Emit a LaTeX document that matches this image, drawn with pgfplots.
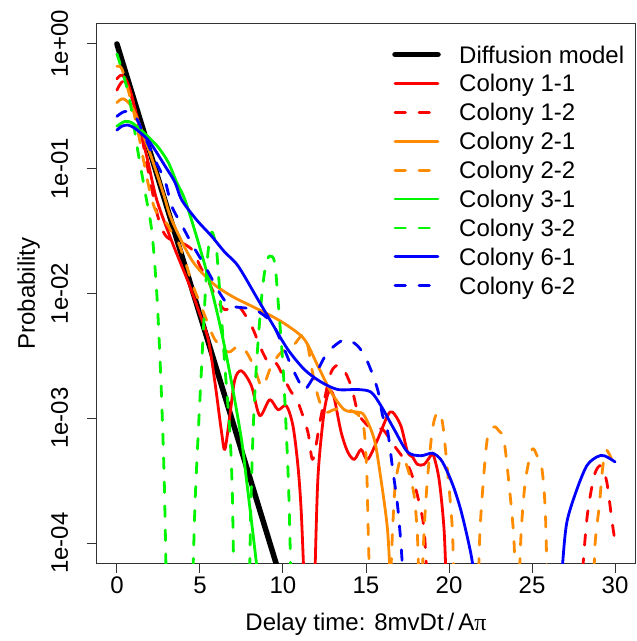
\documentclass[border=0pt]{standalone}
\usepackage{fontspec}
\setmainfont{Liberation Sans}
\newfontfamily\greekfont{Liberation Serif}
\usepackage{pgfplots}
\pgfplotsset{compat=1.18}

\definecolor{cred}{RGB}{255,0,0}
\definecolor{corange}{RGB}{255,140,0}
\definecolor{cgreen}{RGB}{0,245,0}
\definecolor{cblue}{RGB}{0,0,255}

\pgfplotsset{
  dens/.style={line width=2.8bp, line cap=round, line join=round, smooth, tension=0.5},
}
\tikzset{dashd/.style={dash pattern=on 10.5bp off 13.5bp}}

\begin{document}
\begin{tikzpicture}[font=\fontsize{24bp}{28.8bp}\selectfont]
\useasboundingbox (-97bp,-78bp) rectangle (540bp,563bp);
\begin{axis}[
  at={(0,0)}, anchor=south west, scale only axis,
  width=538bp, height=539bp,
  xmin=-1.2, xmax=31.2,
  ymode=log, ymin=6.918e-5, ymax=1.4454,
  axis line style={line width=1bp, black!80},
  tick style={line width=1bp, black!80},
  tick align=outside, major tick length=10bp,
  xtick pos=bottom, ytick pos=left,
  xtick={0,5,10,15,20,25,30}, xticklabels={0,5,10,15,20,25,30},
  ytick={1e-4,1e-3,1e-2,1e-1,1},
  yticklabels={1e-04,1e-03,1e-02,1e-01,1e+00},
  yminorticks=false,
  xticklabel style={anchor=base, inner sep=0pt, yshift=-21bp},
  yticklabel style={rotate=90, anchor=base, inner sep=0pt, yshift=19bp},
  every axis x label/.style={at={(axis description cs:0.5,0)}, anchor=base, yshift=-67bp},
  every axis y label/.style={at={(axis description cs:0,0.5)}, rotate=90, anchor=base, yshift=62bp},
  xlabel={Delay time: 8mvDt\,/\,A{\greekfont π}},
  ylabel={Probability},
  unbounded coords=jump,
]

% diffusion model
\addplot[black, line width=5.5bp, line cap=round] coordinates {(0,1) (10,4.54e-5)};

% Colony 1-1
\addplot[dens, cred] coordinates {
(0,0.525) (0.3,0.562) (0.7,0.468) (1.2,0.263) (1.85,0.117) (2.4,0.0562) (3.3,0.0263)
(4.3,0.0123) (4.9,7.41e-3) (5.5,4.27e-3) (5.9,1.95e-3) (6.3,7.76e-4) (6.5,5.62e-4)
(6.8,1.05e-3) (7.1,2.04e-3) (7.5,2.40e-3) (8.1,1.82e-3) (8.6,1.05e-3) (9.2,1.41e-3)
(9.7,1.17e-3) (10.2,1.26e-3) (10.6,8.71e-4) (10.9,4.17e-4) (11.1,1.78e-4)
(11.3,3.98e-5) (11.6,nan)
(11.9,3.98e-5) (12.1,3.24e-4) (12.45,1.05e-3) (12.75,1.62e-3) (13.05,1.51e-3) (13.5,7.76e-4)
(13.9,5.37e-4) (14.3,4.68e-4) (14.7,5.62e-4) (15.1,4.68e-4) (15.7,6.76e-4) (16.3,1.05e-3)
(16.6,1.12e-3) (17.1,8.71e-4) (17.5,5.37e-4) (17.8,4.90e-4) (18.1,4.27e-4) (18.5,4.27e-4)
(18.9,5.01e-4) (19.05,5.13e-4) (19.4,3.24e-4) (19.7,1.29e-4) (19.85,3.98e-5)
};

% Colony 1-2
\addplot[dens, dashd, cred] coordinates {
(0,0.427) (0.36,0.501) (0.8,0.417) (1.5,0.178) (2.0,0.0794) (2.5,0.0398) (2.9,0.0295)
(3.4,0.0263) (4.0,0.0251) (4.6,0.0219) (5.0,0.0166) (5.5,0.0126) (6.0,9.12e-3) (6.5,7.41e-3)
(7.3,7.94e-3) (8.1,5.50e-3) (8.7,3.55e-3) (9.2,2.69e-3) (9.6,2.75e-3) (10.1,2.04e-3)
(10.5,1.62e-3) (10.9,1.35e-3) (11.5,7.76e-4) (11.8,4.68e-4) (12.3,1.05e-3)
(12.9,2.34e-3) (13.5,2.63e-3) (14.1,1.82e-3) (14.5,1.12e-3)
(14.9,9.33e-4) (15.4,8.13e-4) (16.0,8.13e-4) (16.7,6.03e-4) (17.3,4.68e-4) (17.7,3.72e-4)
(18.1,2.40e-4) (18.5,1.29e-4) (18.7,3.98e-5) (20,nan)
(27.95,3.98e-5) (28.3,1.55e-4) (28.75,3.47e-4) (29.15,4.17e-4) (29.5,3.09e-4) (29.8,1.55e-4)
(30.0,1.02e-4)
};

% Colony 2-1
\addplot[dens, corange] coordinates {
(0,0.339) (0.4,0.363) (1.0,0.295) (2.0,0.132) (2.8,0.0631) (3.3,0.0389) (4.5,0.0186)
(5.7,0.0123) (6.9,9.55e-3) (8.1,7.94e-3) (9.3,6.61e-3) (10.3,5.50e-3) (11.3,4.27e-3)
(12.1,2.63e-3) (12.9,1.62e-3) (13.7,1.17e-3) (14.5,1.12e-3) (14.9,1.05e-3)
(15.5,6.76e-4) (15.9,3.24e-4) (16.3,1.26e-4) (16.5,3.98e-5)
};

% Colony 2-2
\addplot[dens, dashd, corange] coordinates {
(0,0.661) (0.3,0.631) (0.8,0.372) (1.25,0.204) (1.85,0.0794) (2.15,0.0537) (2.5,0.0417)
(3.0,0.0363) (3.3,0.0309) (3.7,0.0257) (4.2,0.0166) (4.5,0.0123) (5.3,6.61e-3)
(5.9,4.27e-3) (6.7,3.39e-3) (7.3,3.80e-3) (7.8,3.39e-3) (8.3,2.51e-3) (8.75,1.78e-3)
(9.3,2.63e-3) (9.9,3.39e-3) (10.6,3.80e-3) (11.2,4.68e-3) (11.5,3.80e-3) (11.7,2.63e-3)
(12.1,1.51e-3) (12.5,1.12e-3) (13.05,1.17e-3) (13.6,1.20e-3) (14.3,1.12e-3)
(14.7,1.0e-3) (14.9,7.76e-4) (15.05,3.55e-4) (15.15,1.0e-4) (15.25,3.98e-5) (15.8,nan)
(16.45,3.98e-5) (16.6,1.26e-4) (16.75,2.82e-4) (17.0,4.37e-4) (17.25,4.79e-4) (17.55,3.80e-4)
(17.9,2.40e-4) (18.1,1.12e-4) (18.2,3.98e-5) (18.27,nan)
(18.35,3.98e-5) (18.5,1.26e-4) (18.7,3.24e-4) (19.0,8.13e-4) (19.3,1.12e-3) (19.6,9.33e-4)
(19.9,3.89e-4) (20.2,1.29e-4) (20.3,3.98e-5) (21,nan)
(21.75,3.98e-5) (21.85,1.12e-4) (22.0,2.40e-4) (22.3,6.76e-4) (22.7,8.51e-4) (23.0,7.94e-4)
(23.3,6.76e-4) (23.6,3.09e-4) (23.9,1.12e-4) (24.0,3.98e-5) (24.1,nan)
(24.2,3.98e-5) (24.35,1.26e-4) (24.6,3.16e-4) (25.0,5.62e-4) (25.3,5.01e-4) (25.6,3.89e-4)
(25.8,1.78e-4) (25.92,3.98e-5) (27,nan)
(28.7,3.98e-5) (28.8,1.0e-4) (29.05,2.0e-4) (29.25,3.98e-4) (29.45,5.50e-4) (29.7,5.01e-4)
(30.0,3.89e-4)
};

% Colony 3-1
\addplot[dens, cgreen] coordinates {
(0,0.219) (0.5,0.240) (1.0,0.229) (1.85,0.182) (2.5,0.148) (3.1,0.112) (3.6,0.0776)
(4.1,0.0562) (4.9,0.0257) (5.7,0.0107) (6.3,4.90e-3) (6.9,1.95e-3) (7.5,6.76e-4)
(7.8,3.24e-4) (8.1,1.51e-4) (8.4,6.92e-5) (8.6,3.98e-5)
};

% Colony 3-2
\addplot[dens, dashd, cgreen] coordinates {
(0,0.832) (0.4,0.562) (0.8,0.339) (1.25,0.141) (1.7,0.0646) (2.1,0.0316) (2.4,0.01)
(2.65,2.0e-3) (2.85,3.16e-4) (2.98,3.98e-5) (3.5,nan)
(4.55,3.98e-5) (4.7,2.0e-4) (4.9,7.76e-4) (5.1,2.63e-3) (5.3,8.91e-3) (5.5,0.0224)
(5.7,0.0309) (5.85,0.0282) (6.0,0.0224) (6.2,0.01) (6.5,2.63e-3) (6.8,7.76e-4)
(6.95,2.51e-4) (7.05,3.98e-5) (7.5,nan)
(7.98,3.98e-5) (8.05,1.58e-4) (8.2,7.76e-4) (8.4,2.63e-3) (8.7,8.91e-3) (8.95,0.0166)
(9.2,0.02) (9.5,0.0178) (9.7,8.91e-3) (10.0,2.63e-3) (10.2,7.76e-4) (10.35,2.51e-4)
(10.5,3.98e-5)
};

% Colony 6-1
\addplot[dens, cblue] coordinates {
(0,0.204) (0.3,0.219) (0.65,0.224) (1.0,0.214) (1.4,0.195) (2.0,0.162) (2.9,0.105)
(3.5,0.0776) (3.9,0.0562) (4.8,0.0389) (5.7,0.0288) (6.5,0.0214) (7.3,0.0166) (8.5,8.91e-3)
(9.3,5.89e-3) (10.3,3.55e-3) (11.3,2.45e-3) (12.3,1.95e-3)
(13.3,1.70e-3) (14.5,1.70e-3) (15.3,1.62e-3) (15.9,1.26e-3)
(16.7,8.13e-4) (17.5,5.37e-4) (18.3,5.01e-4) (19.0,5.25e-4)
(19.5,4.68e-4) (19.9,3.72e-4) (20.3,2.75e-4) (20.7,1.86e-4) (21.1,1.12e-4) (21.4,7.08e-5)
(21.6,3.98e-5) (24,nan)
(26.75,3.98e-5) (26.85,7.08e-5) (27.1,1.48e-4) (27.7,2.69e-4) (28.3,4.17e-4) (28.9,4.90e-4)
(29.35,5.01e-4) (30.0,4.47e-4)
};

% Colony 6-2
\addplot[dens, dashd, cblue] coordinates {
(0,0.263) (0.5,0.288) (1.1,0.263) (1.7,0.178) (2.3,0.117) (2.9,0.0794) (3.3,0.0501)
(3.9,0.0355) (4.5,0.0251) (5.3,0.0166) (6.3,9.55e-3) (6.9,7.94e-3) (8.3,7.41e-3)
(9.3,5.89e-3) (9.9,4.07e-3) (10.5,2.63e-3) (11.1,1.82e-3) (11.35,1.70e-3) (12.1,2.45e-3)
(12.7,3.39e-3) (13.7,4.27e-3) (14.5,3.80e-3) (15.1,2.82e-3) (15.7,1.70e-3)
(16.0,1.05e-3) (16.3,7.94e-4) (16.6,3.98e-4) (16.9,2.0e-4) (17.1,1.0e-4) (17.3,3.98e-5)
};
\end{axis}

% legend, placed from the top left corner of the box
\begin{scope}[shift={(0,539bp)}]
\draw[black, line width=5.5bp, line cap=round] (298bp,-30.6bp) -- ++(43bp,0);
\draw[cred, line width=2.8bp, line cap=round] (298bp,-59.5bp) -- ++(43bp,0);
\draw[cred, line width=2.8bp, line cap=round, dashd] (298bp,-88.4bp) -- ++(43bp,0);
\draw[corange, line width=2.8bp, line cap=round] (298bp,-117.3bp) -- ++(43bp,0);
\draw[corange, line width=2.8bp, line cap=round, dashd] (298bp,-146.2bp) -- ++(43bp,0);
\draw[cgreen, line width=2.8bp, line cap=round] (298bp,-175.1bp) -- ++(43bp,0);
\draw[cgreen, line width=2.8bp, line cap=round, dashd] (298bp,-204.0bp) -- ++(43bp,0);
\draw[cblue, line width=2.8bp, line cap=round] (298bp,-232.9bp) -- ++(43bp,0);
\draw[cblue, line width=2.8bp, line cap=round, dashd] (298bp,-261.8bp) -- ++(43bp,0);
\foreach \t [count=\i from 0] in {Diffusion model,Colony 1-1,Colony 1-2,Colony 2-1,Colony 2-2,Colony 3-1,Colony 3-2,Colony 6-1,Colony 6-2}
  \node[anchor=base west, inner sep=0pt] at (362bp,-30.6bp-28.9bp*\i-8.5bp) {\t};
\end{scope}
\end{tikzpicture}
\end{document}
